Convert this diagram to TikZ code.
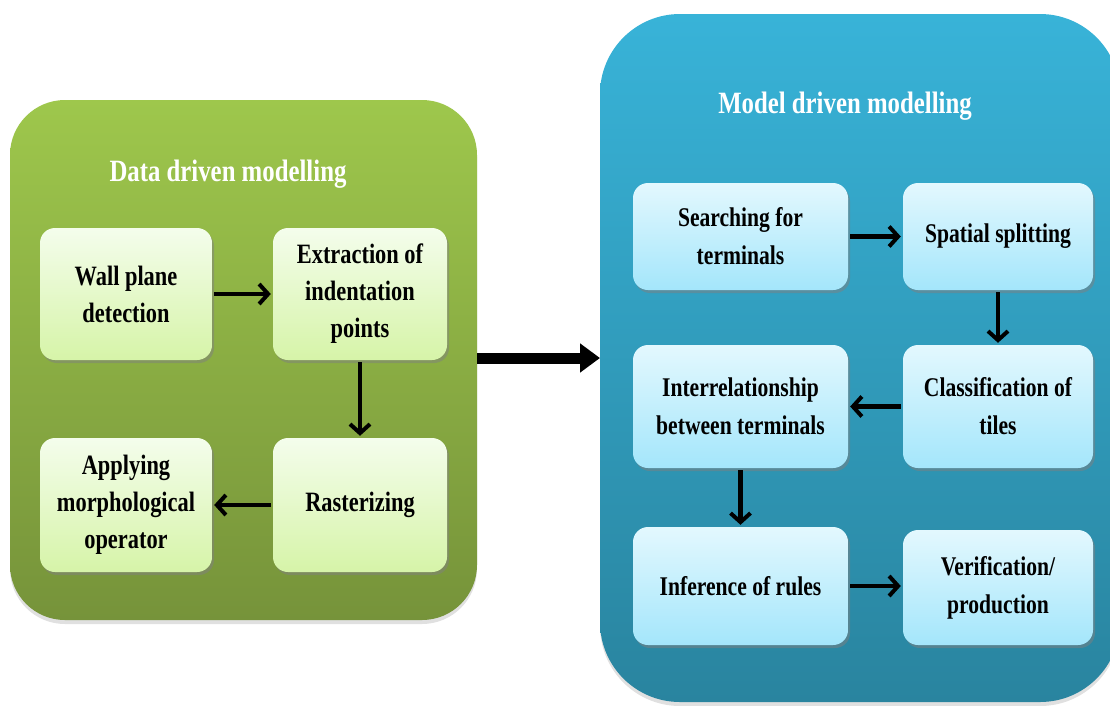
\documentclass[tikz,border=0pt]{standalone}
\usepackage{fontspec}
\newfontfamily\cond{Liberation Serif}[FakeStretch=0.8]
\usetikzlibrary{arrows.meta,shadows}
\definecolor{gtop}{HTML}{9EC74C}
\definecolor{gbot}{HTML}{76933A}
\definecolor{btop}{HTML}{38B3D8}
\definecolor{bbot}{HTML}{29849F}
\definecolor{lgtop}{HTML}{F4FDEC}
\definecolor{lgbot}{HTML}{D6F4A8}
\definecolor{lbtop}{HTML}{E3F8FE}
\definecolor{lbbot}{HTML}{A4E6FB}
\tikzset{
  gbox/.style={rectangle, rounded corners=15pt, draw=none, top color=lgtop, bottom color=lgbot,
    drop shadow={opacity=0.5, shadow xshift=2pt, shadow yshift=-3pt},
    align=center, font=\cond\bfseries\fontsize{28}{37}\selectfont},
  bbox/.style={rectangle, rounded corners=15pt, draw=none, top color=lbtop, bottom color=lbbot,
    drop shadow={opacity=0.5, shadow xshift=2pt, shadow yshift=-3pt},
    align=center, font=\cond\bfseries\fontsize{27}{38}\selectfont},
  title/.style={text=white, font=\cond\bfseries\fontsize{31}{36}\selectfont},
  flow/.style={-{Straight Barb[length=9pt,width=20pt,line width=4pt]}, line width=4.5pt, black, shorten <=2pt, shorten >=2pt},
  bigflow/.style={-{Triangle[length=20pt,width=28pt]}, line width=11pt, black}
}
\begin{document}
\begin{tikzpicture}[x=1pt,y=-1pt]
\useasboundingbox (0,0) rectangle (1110,705);
\clip (0,0) rectangle (1110,705);
% containers
\coordinate (g1) at (10,100); \coordinate (g2) at (477,620);
\coordinate (b1) at (600,14); \coordinate (b2) at (1120,702);
\fill[black!12, rounded corners=55pt] ([yshift=-2pt]g1) rectangle ([yshift=-4pt]g2);
\fill[black!12, rounded corners=80pt] ([yshift=-2pt]b1) rectangle ([yshift=-4pt]b2);
\shade[top color=gtop, bottom color=gbot, rounded corners=55pt] (g1) rectangle (g2);
\shade[top color=btop, bottom color=bbot, rounded corners=80pt] (b1) rectangle (b2);
\node[title] (gt) at (228,174) {Data driven modelling};
\node[title] (bt) at (845,106) {Model driven modelling};
% left boxes
\node[gbox, minimum width=172pt, minimum height=132pt] (wall) at (126,294) {Wall plane\\detection};
\node[gbox, minimum width=174pt, minimum height=132pt] (extr) at (360,294) {Extraction of\\indentation\\points};
\node[gbox, minimum width=172pt, minimum height=134pt] (appl) at (126,505) {Applying\\morphological\\operator};
\node[gbox, minimum width=174pt, minimum height=134pt] (rast) at (360,505) {Rasterizing};
% right boxes
\node[bbox, minimum width=215pt, minimum height=107pt] (search) at (740.5,236.5) {Searching for\\terminals};
\node[bbox, minimum width=190pt, minimum height=107pt] (spatial) at (998,236.5) {Spatial splitting};
\node[bbox, minimum width=215pt, minimum height=123pt] (inter) at (740.5,406.5) {Interrelationship\\between terminals};
\node[bbox, minimum width=190pt, minimum height=123pt] (class) at (998,406.5) {Classification of\\tiles};
\node[bbox, minimum width=215pt, minimum height=118pt] (infer) at (740.5,586) {Inference of rules};
\node[bbox, minimum width=190pt, minimum height=115pt] (verif) at (998,587.5) {Verification/\\production};
% arrows
\draw[flow] (wall) -- (extr);
\draw[flow] (extr) -- (rast);
\draw[flow] (rast) -- (appl);
\draw[flow] (search) -- (search -| spatial.west);
\draw[flow] (spatial.south) -- (spatial.south |- class.north);
\draw[flow] (class) -- (class -| inter.east);
\draw[flow] (inter) -- (infer);
\draw[flow] (infer) -- (infer -| verif.west);
\coordinate (bstart) at (477,358);
\coordinate (bend) at (600,358);
\draw[bigflow] (bstart) -- (bend);
\end{tikzpicture}
\end{document}
